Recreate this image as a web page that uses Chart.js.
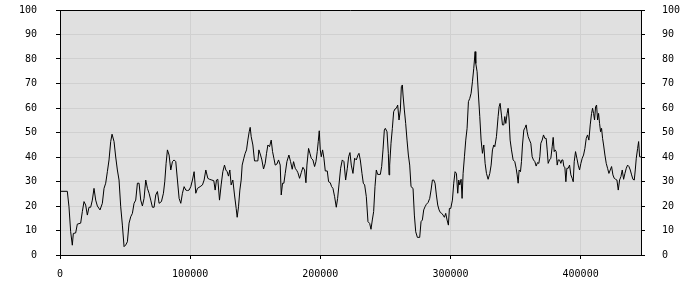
<!DOCTYPE html>
<html>
<head>
<meta charset="utf-8">
<script src="https://cdn.jsdelivr.net/npm/chart.js@4/dist/chart.umd.min.js"></script>
<style>
    html, body { margin: 0; padding: 0; background: #ffffff; }
    #wrap { width: 700px; height: 300px; }
</style>
</head>
<body>
<div id="wrap"><canvas id="chart" width="700" height="300"></canvas></div>
<script>
// x positions of the samples
const sampleX = [
    0, 5620, 6900, 8190, 9470, 10240, 12030, 13310, 15880, 17160, 18440, 19720, 21010, 22290, 23570, 24850,
    26130, 27420, 28700, 30750, 32540, 33830, 35110, 36390, 37670, 38950, 39980, 41520, 42800, 44080, 45360,
    46650, 47930, 49210, 50490, 51770, 53060, 54340, 55620, 56900, 58180, 59470, 60750, 62030, 63310, 64590,
    65880, 67160, 68440, 69720, 71000, 72290, 73570, 74850, 76130, 77930, 79470, 80490, 81520, 82540, 83820,
    85110, 86390, 87670, 88950, 90230, 91520, 92800, 94080, 95360, 96640, 97930, 99210, 100490, 101770, 103050,
    104330, 105620, 107670, 109460, 110740, 112030,
    113560, 114850, 116640, 118180, 119200, 120230, 121260, 122540, 123820, 125100, 126380, 127410, 128440,
    129460, 130490, 131510, 132790, 134080, 135360, 136130, 137150, 138180, 139200, 139970, 141260, 142280,
    143310, 144330, 145360, 146130, 146900, 148180, 149460, 150740, 152020, 152790, 154080, 155100, 156380,
    157660, 158690, 159720, 161000, 162280, 163310, 164330, 165360, 166640, 167920, 169200, 169970, 171000,
    172020, 173050, 174330, 175870, 177150, 178430, 179460, 180740, 182020, 182790, 184070, 185360, 186640,
    187920, 188950, 189710, 190990, 192020, 193050, 194330, 195610, 196640, 197660, 198430, 199200, 199970,
    200740, 201770, 202790, 203820, 205360, 206380, 207660, 208690, 209710, 211000, 212280, 213300, 214330,
    215610, 216890, 218170, 219460, 220740, 221770, 222790,
    223810, 225090, 226380, 227660, 228940, 229710, 230730, 232020, 233040, 234070, 235350, 236630, 237910,
    238940, 239960, 240990, 242020, 243040, 244070, 245090, 246120, 247140, 248170, 249200, 249960, 251250,
    252270, 252790, 253300, 254320, 255350, 256370, 257400, 258430, 259450, 260480, 261500, 262270, 263040,
    263550, 264580, 265600, 266630, 267660, 268680, 269710, 271250, 272270, 273300, 274580, 276370, 277400,
    278420, 279450, 280480, 281500, 282780, 284060, 285090, 286120, 287140, 288170, 289190, 290220, 291250,
    292270, 293300, 294320, 295350, 296370, 297400, 298420, 299190, 300220, 301500, 302530, 303550, 304580,
    305600, 306370, 307140, 308170, 308940, 309710, 310730, 311760, 312780, 313810, 314830, 315860, 316880,
    317910, 318930, 319450, 320470, 321500, 322530, 323550, 324580, 325600, 326630, 327660, 328940, 330220,
    331250, 332270, 333300,
    334060, 335340, 336620, 337390, 338160, 339190, 339960, 340980, 341750, 342520, 343550, 344320, 345090,
    345850, 346880, 348160, 349440, 350470, 351240, 352010, 352780, 353800, 354570, 355340, 356370, 357390,
    358160, 358930, 359700, 360730, 361750, 362780, 363800, 364830, 365850, 366880, 367900, 368670, 369440,
    370470, 371490, 372520, 373550, 374310, 375080, 376110, 377130, 378160, 378930, 379700, 380470, 381240,
    382010, 382780, 383800, 384830, 385600, 386370, 387130, 387900, 388670, 389440, 390470, 391490, 392520,
    393540, 394310, 395080, 396110, 397130, 398160, 399190, 400210, 401240, 402260, 403290, 404310, 405340,
    406360, 407390, 408420, 409190, 409950, 410720, 411490, 412260, 413030, 413800, 414570, 415340, 416110,
    416880, 417650, 418670, 419700, 420720, 421750, 422770, 423800, 424820, 425850, 426870, 427900, 428930,
    429950, 430980, 432000, 433030, 434050, 435080, 436110, 437130, 438160, 439180, 440210, 441230, 442000,
    442770, 443800, 444570, 445340, 446360
];

// values at those positions
const sampleY = [
    26, 26, 19.7, 9.5, 4, 8.8, 9, 12.6, 13, 17.7, 21.8, 20.4, 16.3, 19.5, 19.5, 22.4,
    27.2, 22.4, 20, 18.4, 21.1, 27.2, 29.3, 34, 38.8, 46.3, 49.3, 46.3, 40, 34.7, 30.6,
    19.7, 12.2, 3.4, 4.1, 5.4, 13, 15.6, 17, 21.1, 22.4, 29.3, 29.3, 22.4, 20, 23.1,
    30.6, 27.2, 25.2, 22.4, 19.5, 19.5, 24.5, 25.9, 21.1, 21.8, 25.2, 29.9, 37.4, 42.9, 40.8,
    34.7, 38.1, 38.8, 38.1, 30.6, 23.1, 21.1, 25.2, 27.9, 26.5, 26.3, 26.5, 27.9, 30.6, 34,
    25.2, 27.2, 27.9, 28.6, 30.6, 34.7,
    31.3, 30.9, 30.6, 30.3, 26.5, 30.6, 30.9, 22.4, 28.6, 34, 36.7, 34.7, 34,
    32.2, 34.7, 28.6, 30.6, 24.5, 19, 15.4, 19.7, 26.5, 30.6, 36.7, 39.5, 41.5,
    42.9, 46.9, 50.3, 52.1, 48.3, 44.9, 38.4, 38.4, 38.4, 42.9, 40.8, 38.8, 35.1,
    37.4, 41.5, 44.9, 44.2, 46.9, 42.2, 39.5, 36.7, 37.1, 38.8, 36.7, 24.5, 29.3,
    29.3, 33.3, 38.1, 40.8, 38.1, 35, 38.1, 35.4, 34.4, 33.6, 31.3, 33.6, 35.8,
    34.7, 29.5, 36.7, 43.5, 41.5, 39.5, 38.8, 36.1, 38.1, 42.2, 46.3, 50.7, 42.9,
    40.1, 42.9, 39.5, 34.3, 34.3, 29.9, 29.5, 27.9, 27.2, 23.8, 19.5, 23.1, 28.6,
    35.4, 38.8, 38.1, 30.6, 35.4, 40.1, 41.8,
    36.7, 33.3, 39.5, 38.8, 40.8, 41.5, 38.8, 33.3, 29.3, 28.6, 23.8, 13.6, 12.9,
    10.5, 14.3, 17.7, 27.9, 34.7, 32.9, 32.9, 32.9, 36.1, 42.9, 51, 51.7, 50.3,
    41.5, 32.7, 36.7, 45.6, 51.7, 58.5, 59.6, 59.9, 61.2, 55.1, 59.2, 68.7, 69.4,
    65.3, 59.2, 53.7, 46.9, 40.8, 36.7, 27.9, 27.2, 16.3, 9.5, 7.2, 7.2, 13.6,
    14.3, 18.4, 19.7, 20.7, 21.4, 23.1, 26.5, 30.6, 30.6, 29.3, 24.5, 20.4, 18.4,
    17.3, 17, 16.3, 15.4, 17, 14.3, 12.2, 19, 19, 22.4, 29.3, 34, 33.3,
    25.2, 30.6, 28.6, 30.9, 23.1, 33.3, 40.1, 46.9, 51.7, 62.6, 63.9, 66, 70.7,
    76.2, 83, 78.2, 74.8, 65.3, 56.5, 46.9, 41.5, 44.9, 37.4, 33.3, 30.9, 33.3,
    36.7, 42.9, 44.9,
    44.2, 48.3, 56.5, 60.5, 61.9, 57.1, 53.1, 53.1, 56.5, 53.7, 57.8, 59.9, 55.1,
    46.9, 42.9, 38.8, 38.1, 35.4, 32.7, 29.3, 34.7, 34, 38.1, 44.9, 51, 52,
    53.1, 50.3, 48.3, 46.9, 45.6, 40.1, 38.8, 38.1, 36.3, 37.7, 37.4, 40.1, 45.6,
    46.9, 49, 47.6, 47.6, 42.9, 37.4, 38.8, 39.5, 44.2, 48, 42.2, 42.9, 42.2,
    36.7, 38.8, 38.8, 37.4, 38.8, 38.8, 36.1, 35.8, 29.9, 35.4, 35.4, 36.7, 32.7,
    31.3, 29.9, 38.1, 42.2, 39.5, 36.7, 34.7, 37.4, 39.5, 40.8, 43.5, 47.6, 49,
    46.9, 53.1, 57.8, 59.9, 57.8, 55.1, 60.5, 61.2, 55.1, 57.8, 53.7, 50.3, 51.7,
    47.6, 44.9, 40.8, 37.4, 35.4, 33.3, 34.7, 36.1, 32.7, 31.3, 30.9, 30.6, 26.5,
    30.6, 32, 34.7, 30.9, 33.3, 35.4, 36.7, 36.1, 34.7, 32.7, 30.9, 30.6, 34.7,
    39.5, 43.5, 46.3, 40.1, 40
];

const xMax = 446400;
const yTicks = [0, 10, 20, 30, 40, 50, 60, 70, 80, 90, 100];
const xTicks = [0, 100000, 200000, 300000, 400000];

const points = sampleX.map((x, i) => ({ x: x, y: sampleY[i] }));

// grey plot area and a black frame round it
const plotFrame = {
    id: 'plotFrame',
    beforeDraw(chart) {
        const { ctx, chartArea: a } = chart;
        ctx.save();
        ctx.fillStyle = '#e0e0e0';
        ctx.fillRect(a.left, a.top, a.right - a.left, a.bottom - a.top);
        ctx.restore();
    },
    afterDraw(chart) {
        const { ctx, chartArea: a } = chart;
        ctx.save();
        ctx.strokeStyle = '#000000';
        ctx.lineWidth = 1;
        ctx.beginPath();
        ctx.moveTo(a.left, Math.round(a.top) + 0.5);
        ctx.lineTo(a.right, Math.round(a.top) + 0.5);
        ctx.stroke();
        ctx.restore();
    }
};

const tickFont = { family: 'DejaVu Sans Mono', size: 10 };

// fixed axis sizes, and no extra room asked for around the labels
const fixWidth = (w) => (axis) => {
    axis.width = w;
    axis.paddingTop = 0;
    axis.paddingBottom = 0;
};

new Chart(document.getElementById('chart'), {
    type: 'line',
    data: {
        datasets: [{
            data: points,
            borderColor: '#000000',
            borderWidth: 1,
            pointRadius: 0,
            tension: 0,
            fill: false,
            yAxisID: 'y',
        }]
    },
    options: {
        responsive: false,
        animation: false,
        layout: {
            autoPadding: false,
            padding: { left: 0, right: 0, top: 10, bottom: 0 }
        },
        plugins: {
            legend: { display: false },
            tooltip: { enabled: false },
        },
        scales: {
            x: {
                type: 'linear',
                min: 0,
                max: xMax,
                afterBuildTicks: (axis) => {
                    axis.ticks = xTicks.map(v => ({ value: v }));
                },
                afterFit: (axis) => {
                    axis.height = 45;
                    axis.paddingLeft = 0;
                    axis.paddingRight = 0;
                },
                ticks: {
                    font: tickFont,
                    color: '#000000',
                    padding: 9,
                    maxRotation: 0,
                    callback: (value) => String(value),
                },
                grid: {
                    color: '#d0d0d0',
                    tickColor: '#000000',
                    tickLength: 4,
                },
                border: { color: '#000000' },
            },
            y: {
                position: 'left',
                min: 0,
                max: 100,
                afterBuildTicks: (axis) => {
                    axis.ticks = yTicks.map(v => ({ value: v }));
                },
                afterFit: fixWidth(60),
                ticks: {
                    font: tickFont,
                    color: '#000000',
                    padding: 19,
                },
                grid: {
                    color: '#d0d0d0',
                    tickColor: '#000000',
                    tickLength: 4,
                },
                border: { color: '#000000' },
            },
            y2: {
                position: 'right',
                min: 0,
                max: 100,
                afterBuildTicks: (axis) => {
                    axis.ticks = yTicks.map(v => ({ value: v }));
                },
                afterFit: fixWidth(59),
                ticks: {
                    font: tickFont,
                    color: '#000000',
                    padding: 17,
                },
                grid: {
                    drawOnChartArea: false,
                    tickColor: '#000000',
                    tickLength: 4,
                },
                border: { color: '#000000' },
            },
        }
    },
    plugins: [plotFrame]
});
</script>
</body>
</html>
